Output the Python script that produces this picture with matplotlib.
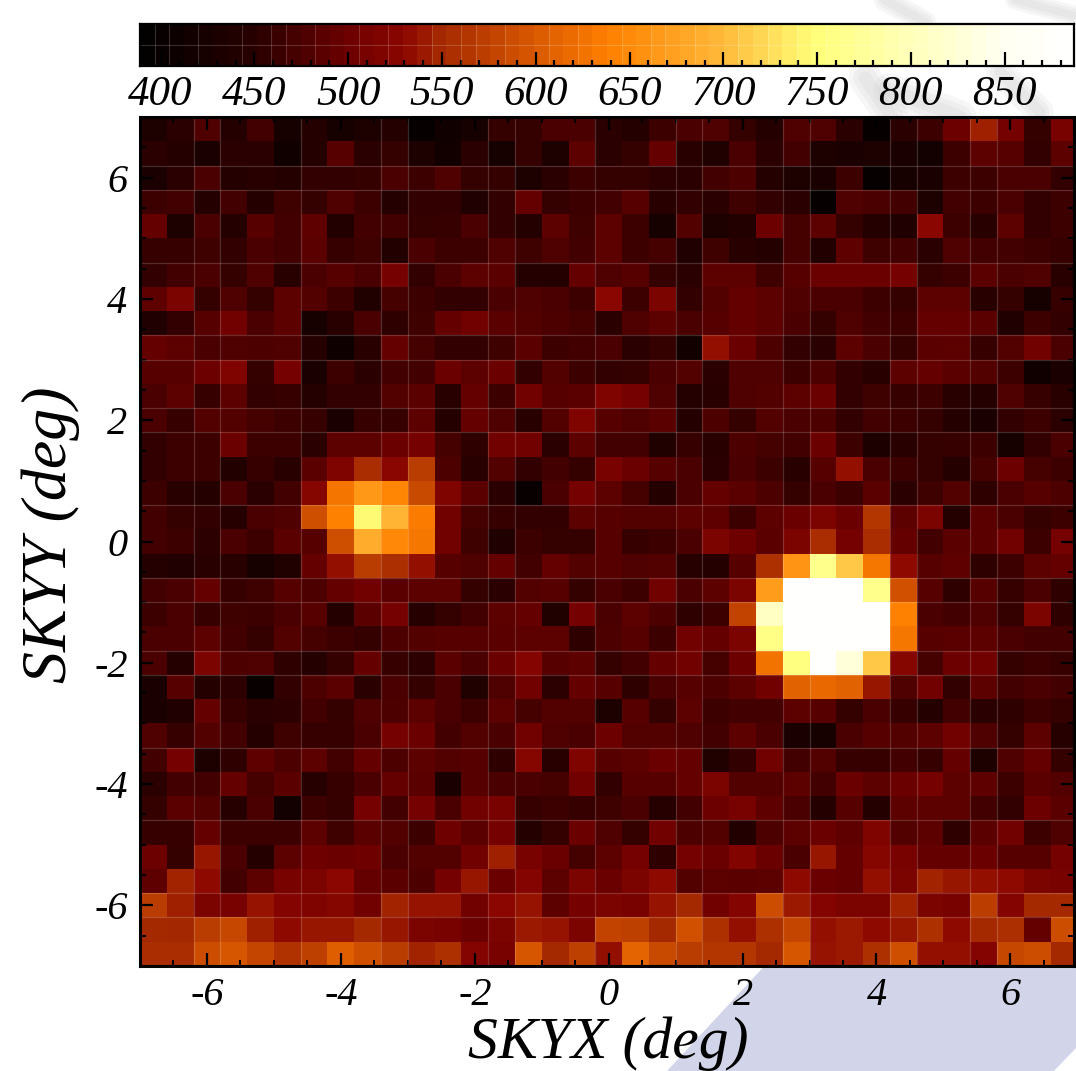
#!/usr/bin/env python3
"""Sky map counts with a stepped colour bar on top."""

import numpy as np
import matplotlib

matplotlib.use("Agg")
import matplotlib.pyplot as plt
from matplotlib.colors import LinearSegmentedColormap, Normalize
from matplotlib.patches import Polygon
from matplotlib.ticker import MultipleLocator

# counts per cell, top row first, left to right
row_00 = [435,452,480,445,470,425,445,425,435,445,400,415,425,460,460,475,475,452,445,465,475,480,460,445,480,480,452,400,452,465,500,545,508,460,510]
row_01 = [452,445,430,452,452,415,445,485,452,460,435,418,452,425,460,435,490,452,460,495,450,440,475,452,470,435,428,435,428,420,465,490,485,458,490]
row_02 = [428,452,475,445,450,445,458,458,460,475,465,480,460,460,435,452,465,460,460,455,452,470,478,445,435,430,465,400,425,430,465,465,475,475,458]
row_03 = [465,470,445,470,445,468,460,480,465,445,458,458,438,458,495,460,465,470,485,450,458,452,468,458,452,400,480,475,470,435,470,465,475,458,465]
row_04 = [495,435,475,445,485,470,492,442,470,470,460,462,475,458,445,490,468,490,465,425,482,435,442,500,472,490,460,445,438,528,465,450,490,458,465]
row_05 = [462,462,468,458,475,470,488,462,468,442,475,465,465,480,468,480,470,490,465,472,438,468,450,445,472,442,492,468,470,452,480,470,470,465,462]
row_06 = [458,470,475,460,480,450,475,485,475,508,458,475,490,488,445,445,495,480,485,460,452,490,490,468,485,498,498,498,508,460,465,488,475,480,450]
row_07 = [492,515,460,480,460,490,482,465,440,472,465,458,458,475,480,475,465,528,465,515,458,482,495,490,480,475,475,465,460,490,490,450,460,425,462]
row_08 = [438,458,485,505,475,490,425,450,475,456,468,495,505,488,482,478,472,452,480,490,475,485,495,490,475,460,480,470,465,495,495,488,438,465,458]
row_09 = [495,490,475,480,478,480,445,412,450,495,472,458,458,468,488,465,470,475,452,460,418,535,498,478,458,452,490,475,460,488,490,462,482,505,475]
row_10 = [485,485,500,518,460,508,428,465,452,470,470,498,490,498,458,482,465,458,460,475,482,452,480,480,465,478,458,450,490,495,488,482,465,415,430]
row_11 = [475,490,462,490,458,462,445,458,458,482,488,450,495,465,505,485,488,518,508,480,445,450,480,482,490,498,458,468,462,465,450,445,480,462,450]
row_12 = [475,462,482,482,472,465,462,430,462,462,490,445,495,480,450,482,518,485,480,488,445,478,460,482,475,478,458,470,465,460,445,428,458,465,452]
row_13 = [458,466,466,498,465,465,452,490,490,498,508,472,456,505,505,452,490,470,470,440,462,450,478,472,470,498,465,432,450,460,462,465,425,458,475]
row_14 = [458,465,465,442,462,450,488,518,555,528,570,478,450,482,458,470,460,510,498,485,475,452,475,465,450,485,535,475,465,460,445,472,500,472,465]
row_15 = [465,450,445,475,452,470,525,630,665,645,585,518,488,452,402,475,508,490,472,445,475,495,488,478,460,475,465,488,452,468,482,456,475,485,478]
row_16 = [470,460,458,448,475,480,590,640,745,695,635,505,472,462,458,458,490,485,482,482,490,492,466,490,498,515,498,565,490,515,445,488,475,460,465]
row_17 = [470,465,455,475,465,488,485,590,685,648,632,505,468,438,465,460,460,485,462,465,475,515,502,488,515,555,508,555,495,470,488,488,505,465,508]
row_18 = [445,438,450,450,425,440,495,535,570,558,535,485,480,495,470,495,482,485,480,482,448,445,485,560,660,765,710,632,532,485,492,456,466,490,495]
row_19 = [470,475,495,462,468,485,478,495,505,488,490,490,460,452,482,485,460,475,465,505,475,490,515,670,885,885,885,765,592,485,456,485,462,475,456]
row_20 = [465,475,462,468,465,475,485,445,488,508,448,460,470,490,495,440,508,475,490,478,456,466,578,810,885,885,885,885,640,475,470,480,460,515,456]
row_21 = [475,475,490,470,460,482,472,465,460,478,482,485,485,488,490,490,456,478,485,465,505,495,515,760,885,885,885,885,632,485,488,490,475,470,470]
row_22 = [475,445,515,478,480,456,445,460,495,462,455,488,475,498,522,485,490,460,470,495,505,472,500,628,755,885,830,710,525,472,500,505,460,465,462]
row_23 = [430,485,445,455,402,458,478,488,452,475,460,475,440,480,505,455,495,485,456,475,485,478,490,505,610,618,610,540,480,505,458,490,470,475,470]
row_24 = [430,438,495,462,452,455,470,460,480,478,490,475,465,490,472,482,482,435,485,460,490,465,470,470,490,485,460,475,462,445,470,452,456,465,460]
row_25 = [480,462,482,470,445,468,462,462,475,508,498,470,482,475,505,480,475,500,482,482,480,470,490,475,428,425,475,485,482,490,505,480,460,490,448]
row_26 = [470,508,435,456,492,478,490,470,495,478,490,482,485,456,525,450,518,485,490,498,495,440,458,505,470,482,462,462,470,462,495,435,480,495,460]
row_27 = [452,470,470,495,472,488,448,462,475,495,488,430,485,475,475,472,505,458,485,485,495,515,482,482,490,470,498,490,498,508,490,492,465,488,482]
row_28 = [460,488,482,448,475,420,465,460,508,470,508,475,505,510,462,465,462,468,475,448,470,500,510,492,475,445,485,445,490,490,490,470,458,500,488]
row_29 = [462,462,495,465,466,466,490,468,488,482,465,502,488,508,445,460,498,480,460,505,478,482,442,478,490,498,492,518,482,490,456,488,505,465,480]
row_30 = [500,460,540,475,445,490,502,498,502,475,482,482,505,545,510,498,472,490,508,456,508,498,520,498,475,540,495,525,510,495,495,498,485,485,508]
row_31 = [492,548,532,470,490,510,515,530,495,488,478,508,540,498,522,490,515,498,515,532,482,490,488,490,532,498,495,535,515,548,540,535,532,515,510]
row_32 = [570,545,515,510,538,522,518,525,505,548,538,538,505,530,538,490,508,515,510,538,552,505,522,588,542,522,515,515,548,515,510,572,522,552,552]
row_33 = [552,550,570,582,545,532,540,540,552,540,515,510,498,515,542,538,515,578,575,552,592,560,535,560,580,535,542,532,540,560,532,552,558,495,588]
row_34 = [555,555,588,598,580,562,575,605,590,570,548,560,522,510,598,552,575,535,612,585,570,565,565,552,598,538,542,560,590,535,535,522,582,588,552]

rows = [row_00, row_01, row_02, row_03, row_04, row_05, row_06, row_07, row_08, row_09,
        row_10, row_11, row_12, row_13, row_14, row_15, row_16, row_17, row_18, row_19,
        row_20, row_21, row_22, row_23, row_24, row_25, row_26, row_27, row_28, row_29,
        row_30, row_31, row_32, row_33, row_34]

# colour stops
stop_values = [389, 450, 500, 530, 550, 600, 640, 700, 750, 800, 850, 887]
stop_colours = ["#000000", "#280000", "#6c0000", "#8c0600", "#a42800", "#d85800",
                "#ff8000", "#ffb838", "#ffff78", "#ffffb8", "#fffff0", "#ffffff"]
vmin, vmax = 389, 887
n_levels = 64

bar_ticks = [400, 450, 500, 550, 600, 650, 700, 750, 800, 850]
axis_ticks = [-6, -4, -2, 0, 2, 4, 6]

# the faint lines left in the mesh (edge numbers)
mesh_x_edges = [2, 3, 6, 9, 10, 13, 14, 17, 20, 21, 24, 25, 28, 29, 31, 32]
mesh_y_edges = [2, 3, 6, 9, 10, 12, 13, 16, 19, 20, 22, 23, 26, 29, 32, 33]
bar_edges = [1, 2, 4, 7, 9, 10, 12, 15, 17, 20, 22, 23, 25, 28, 30, 33, 35, 36, 38, 41, 43, 45, 47, 56, 57]

W, H = 1076, 1071
SERIF = "Liberation Serif"


def px_axes(fig, left, top, right, bottom):
    return fig.add_axes([left / W, 1 - bottom / H, (right - left) / W, (bottom - top) / H])


fig = plt.figure(figsize=(W / 100, H / 100), dpi=100, facecolor="white")

# washed out picture behind the chart
bg = fig.add_axes([0, 0, 1, 1], zorder=-1)
bg.set_xlim(0, W)
bg.set_ylim(H, 0)
bg.axis("off")
bg.add_patch(Polygon([(667, 1071), (770, 960), (1076, 960), (1076, 1048), (1054, 1071)], fc="#d2d5ea", ec="none"))
for pts, lw in [
    ([(885, 0), (925, 22)], 16),
    ([(1015, 0), (1076, 16)], 14),
    ([(865, 78), (892, 117)], 24),
    ([(890, 90), (960, 117)], 24),
    ([(1000, 72), (1040, 112)], 20),
]:
    xs, ys = zip(*pts)
    # a few widths on top of each other, so the edge fades out
    for k in (1.0, 0.7, 0.4):
        bg.plot(xs, ys, color="#c8c8c8", alpha=0.16, lw=lw * k, solid_capstyle="round")

cmap = LinearSegmentedColormap.from_list(
    "sky",
    [((v - vmin) / (vmax - vmin), c) for v, c in zip(stop_values, stop_colours)],
    N=256,
)
norm = Normalize(vmin, vmax)

# map
ax = px_axes(fig, 140, 117, 1074, 966)
x_edges = np.linspace(-7, 7, len(rows[0]) + 1)
y_edges = np.linspace(7, -7, len(rows) + 1)
ax.pcolormesh(x_edges, y_edges, np.array(rows), cmap=cmap, norm=norm)
ax.set_xlim(-7, 6.95)
ax.set_ylim(-7, 7)
for i in mesh_x_edges:
    ax.axvline(x_edges[i], color="white", alpha=0.18, lw=0.9)
for i in mesh_y_edges:
    ax.axhline(y_edges[i], color="white", alpha=0.18, lw=0.9)
ax.set_xticks(axis_ticks)
ax.set_yticks(axis_ticks)
ax.xaxis.set_minor_locator(MultipleLocator(0.5))
ax.yaxis.set_minor_locator(MultipleLocator(0.5))
ax.tick_params(which="major", direction="in", length=9.5, width=1.6, top=True, right=True, pad=9)
ax.tick_params(axis="x", which="major", pad=8)
ax.tick_params(which="minor", direction="in", length=4.5, width=1.4, top=True, right=True)
ax.set_xticklabels([str(t) for t in axis_ticks], family=SERIF, style="italic", fontsize=29)
ax.set_yticklabels([str(t) for t in axis_ticks], family=SERIF, style="italic", fontsize=29)
for s in ax.spines.values():
    s.set_linewidth(2.2)

# colour bar
cax = px_axes(fig, 140, 24, 1074, 66)
bar_steps = np.linspace(vmin, vmax, n_levels + 1)
cax.pcolormesh(bar_steps, [0, 1], ((bar_steps[:-1] + bar_steps[1:]) / 2)[None, :], cmap=cmap, norm=norm)
cax.set_xlim(vmin, vmax)
cax.set_ylim(0, 1)
cax.set_yticks([])
for i in bar_edges:
    cax.axvline(bar_steps[i], color="white", alpha=0.18, lw=0.8)
cax.axhline(0.5, color="white", alpha=0.18, lw=0.8)
cax.set_xticks(bar_ticks)
cax.xaxis.set_minor_locator(MultipleLocator(10))
cax.tick_params(which="major", direction="in", length=10, width=1.6, pad=7)
cax.tick_params(which="minor", direction="in", length=4.5, width=1.6)
cax.set_xticklabels([str(t) for t in bar_ticks], family=SERIF, style="italic", fontsize=31)
for s in cax.spines.values():
    s.set_linewidth(1.6)

fig.text(608 / W, 1 - 1058 / H, "SKYX (deg)", family=SERIF, style="italic", fontsize=43,
         ha="center", va="baseline")
fig.text(80 / W, 1 - 535 / H, "SKYY (deg)", family=SERIF, style="italic", fontsize=46,
         ha="right", va="center", rotation=90)

fig.savefig("out.png", dpi=100, facecolor="white")
